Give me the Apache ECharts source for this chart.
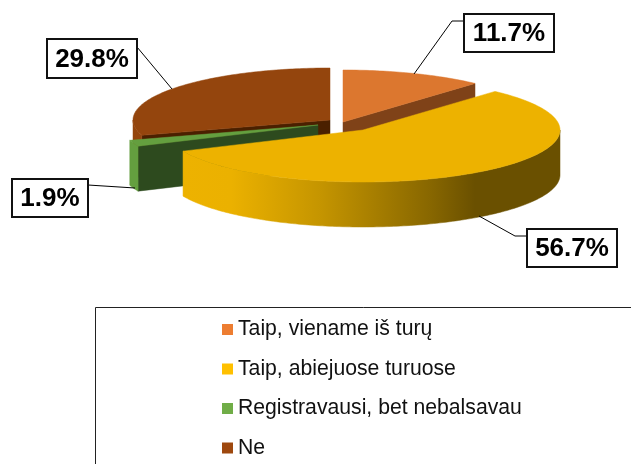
<!DOCTYPE html>
<html>
<head>
<meta charset="utf-8">
<style>
  html, body { margin: 0; padding: 0; background: #fff; }
  #chart { width: 631px; height: 464px; }
</style>
</head>
<body>
<div id="chart"></div>
<script src="https://cdn.jsdelivr.net/npm/echarts@6/dist/echarts.min.js"></script>
<script>
const categories = ['Taip, viename iš turų', 'Taip, abiejuose turuose', 'Registravausi, bet nebalsavau', 'Ne']
const values = [11.7, 56.7, 1.9, 29.8]
const legendColors = ['#ed7d31', '#ffc000', '#70ad47', '#9e480e']

// pie look: ellipse radii and thickness, every slice has its own exploded centre
const RX = 197
const RY = 52
const DEPTH = 45
const looks = [
  { cx: 343, cy: 122, top: '#dc772f', face: '#7f4218', wall: '#7f4218', z: 2,
    box: [464, 14, 90, 38], leader: [[464, 21], [452, 21], [414, 74]] },
  { cx: 363, cy: 130, top: '#edb200', face: '#6a5000', wall: null, z: 4,
    box: [527, 229, 90, 38], leader: [[527, 236], [515, 236], [479, 216]] },
  { cx: 318, cy: 125, top: '#649f3f', face: '#2d4a1e', wall: '#649f3f', z: 3,
    box: [12, 179, 76, 38], leader: [[88, 185], [135, 188]] },
  { cx: 330, cy: 120, top: '#94450d', face: '#4a2000', wall: '#94450d', z: 1,
    box: [47, 39, 90, 39], leader: [[137, 47], [172, 89]] }
]

// yellow side wall darkens to the right
const yellowWall = {
  type: 'linear', x: 182, y: 0, x2: 560, y2: 0, global: true,
  colorStops: [
    { offset: 0, color: '#edb200' },
    { offset: 0.13, color: '#ebb100' },
    { offset: 0.365, color: '#c59500' },
    { offset: 0.656, color: '#886700' },
    { offset: 0.775, color: '#6a5000' },
    { offset: 1, color: '#6a5000' }
  ]
}

const total = values.reduce((a, b) => a + b, 0)
const rad = d => d * Math.PI / 180

function rimPoint(look, deg, drop) {
  return [
    look.cx + RX * Math.sin(rad(deg)),
    look.cy - RY * Math.cos(rad(deg)) + drop
  ]
}

function arc(look, from, to, drop) {
  const pts = []
  const n = Math.max(2, Math.ceil(Math.abs(to - from)))
  for (let i = 0; i <= n; i++) pts.push(rimPoint(look, from + (to - from) * i / n, drop))
  return pts
}

function poly(points, fill, z2) {
  return { type: 'polygon', z2, shape: { points }, style: { fill, stroke: fill, lineWidth: 0.5 } }
}

function cutFace(look, deg, z2) {
  const p = rimPoint(look, deg, 0)
  return poly([[look.cx, look.cy], p, [p[0], p[1] + DEPTH], [look.cx, look.cy + DEPTH]], look.face, z2)
}

function sliceRender(index, from, to) {
  const look = looks[index]
  return () => {
    const kids = []
    if (Math.sin(rad(from)) < -0.001) kids.push(cutFace(look, from, 1))
    if (Math.sin(rad(to)) > 0.001) kids.push(cutFace(look, to, 1))
    const wa = Math.max(from, 90)
    const wb = Math.min(to, 270)
    if (wb > wa) {
      const up = arc(look, wa, wb, 0)
      const down = arc(look, wb, wa, DEPTH)
      kids.push(poly(up.concat(down), look.wall || yellowWall, 2))
    }
    kids.push(poly([[look.cx, look.cy]].concat(arc(look, from, to, 0)), look.top, 3))

    const b = look.box
    kids.push({
      type: 'polyline', z2: 4, shape: { points: look.leader },
      style: { stroke: '#000', lineWidth: 1, fill: 'none' }
    })
    kids.push({
      type: 'rect', z2: 5, shape: { x: b[0], y: b[1], width: b[2], height: b[3] },
      style: { fill: '#fff', stroke: '#111', lineWidth: 2 }
    })
    kids.push({
      type: 'text', z2: 6,
      style: {
        text: values[index].toFixed(1) + '%',
        x: b[0] + b[2] / 2, y: b[1] + b[3] / 2 + 1,
        align: 'center', verticalAlign: 'middle',
        font: 'bold 26px "Liberation Sans", Arial, sans-serif',
        fill: '#000'
      }
    })
    return { type: 'group', children: kids }
  }
}

let cursor = 0
const series = categories.map((name, i) => {
  const from = cursor / total * 360
  cursor += values[i]
  const to = cursor / total * 360
  return {
    name,
    type: 'custom',
    coordinateSystem: 'none',
    z: looks[i].z,
    silent: true,
    itemStyle: { color: legendColors[i] },
    data: [[values[i]]],
    renderItem: sliceRender(i, from, to)
  }
})

const chart = echarts.init(document.getElementById('chart'), null, { renderer: 'canvas' })
chart.setOption({
  animation: false,
  backgroundColor: '#fff',
  legend: {
    data: categories,
    orient: 'vertical',
    left: 222,
    top: 319,
    padding: 0,
    itemWidth: 11,
    itemHeight: 11,
    itemGap: 18.5,
    icon: 'rect',
    selectedMode: false,
    textStyle: {
      fontFamily: '"Liberation Sans", Arial, sans-serif',
      fontSize: 21.2,
      color: '#111',
      padding: [0, 0, 0, 0]
    }
  },
  graphic: [{
    type: 'polyline',
    silent: true,
    shape: { points: [[95.5, 464], [95.5, 307.5], [631, 307.5]] },
    style: { stroke: '#222', lineWidth: 1, fill: 'none' }
  }],
  series
})
</script>
</body>
</html>
